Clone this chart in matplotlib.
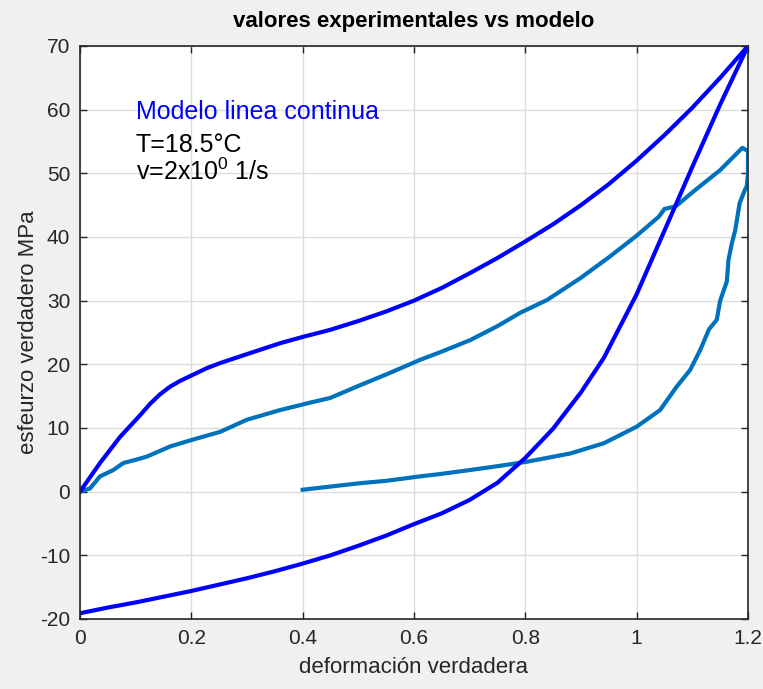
import matplotlib
matplotlib.use("Agg")
import matplotlib.pyplot as plt

plt.rcParams['font.family'] = ['Liberation Sans', 'DejaVu Sans']
plt.rcParams['mathtext.fontset'] = 'custom'
plt.rcParams['mathtext.rm'] = 'Liberation Sans'
plt.rcParams['mathtext.default'] = 'regular'
plt.rcParams['axes.unicode_minus'] = False

# modelo: carga (0 -> 1.2) y descarga (1.2 -> 0)
mod_x = [0, 0.036, 0.072, 0.108, 0.126, 0.144, 0.162, 0.18, 0.204, 0.228, 0.252,
         0.3, 0.359, 0.4, 0.449, 0.5, 0.55, 0.6, 0.65, 0.7, 0.75, 0.8, 0.85,
         0.9, 0.95, 1.0, 1.05, 1.1, 1.15, 1.2,
         1.15, 1.1, 1.05, 1.0, 0.97, 0.941, 0.9, 0.85, 0.8, 0.75, 0.7, 0.65, 0.6,
         0.55, 0.5, 0.45, 0.4, 0.35, 0.3, 0.25, 0.2, 0.15, 0.1, 0.05, 0]
mod_y = [0, 4.5, 8.6, 12.0, 13.8, 15.3, 16.5, 17.4, 18.4, 19.4, 20.2,
         21.6, 23.3, 24.3, 25.4, 26.8, 28.3, 30.0, 32.0, 34.3, 36.7, 39.3, 42.0,
         45.0, 48.3, 52.0, 56.0, 60.3, 65.0, 70.0,
         60.8, 51.0, 41.0, 31.0, 25.9, 21.0, 15.6, 9.9, 5.3, 1.4, -1.3, -3.4, -5.1,
         -6.9, -8.5, -10.0, -11.3, -12.5, -13.6, -14.6, -15.6, -16.5, -17.4, -18.2, -19.1]

# datos experimentales: carga
exp_x = [0, 0.018, 0.036, 0.06, 0.078, 0.1, 0.12, 0.162, 0.2, 0.252, 0.3, 0.359,
         0.419, 0.449, 0.5, 0.55, 0.611, 0.65, 0.701, 0.75, 0.791, 0.839, 0.9,
         0.95, 1.0, 1.04, 1.05, 1.07, 1.1, 1.15, 1.19, 1.2]
exp_y = [0, 0.5, 2.4, 3.4, 4.5, 5.0, 5.5, 7.1, 8.1, 9.4, 11.3, 12.8,
         14.1, 14.7, 16.6, 18.4, 20.7, 22.0, 23.8, 26.0, 28.1, 30.1, 33.6,
         36.8, 40.2, 43.2, 44.4, 44.8, 47.0, 50.5, 54.0, 53.5]

# datos experimentales: descarga
des_x = [1.2, 1.2, 1.198, 1.195, 1.185, 1.177, 1.171, 1.165, 1.162, 1.15, 1.144,
         1.13, 1.114, 1.096, 1.072, 1.042, 1.0, 0.941, 0.881, 0.803, 0.75, 0.701,
         0.65, 0.611, 0.55, 0.5, 0.45, 0.4]
des_y = [53.5, 50.0, 48.0, 47.5, 45.3, 41.0, 39.0, 36.4, 33.0, 30.0, 27.0,
         25.5, 22.2, 19.1, 16.5, 12.8, 10.2, 7.6, 6.0, 4.7, 4.0, 3.4,
         2.8, 2.4, 1.7, 1.3, 0.8, 0.3]

xticks = [0, 0.2, 0.4, 0.6, 0.8, 1, 1.2]
xlabels = ['0', '0.2', '0.4', '0.6', '0.8', '1', '1.2']
yticks = [-20, -10, 0, 10, 20, 30, 40, 50, 60, 70]

fig = plt.figure(figsize=(7.63, 6.89), dpi=100, facecolor='#f0f0f0')
ax = fig.add_axes([0.1048, 0.1016, 0.8755, 0.8317])

ax.plot(exp_x, exp_y, color='#0072bd', lw=3)
ax.plot(des_x, des_y, color='#0072bd', lw=3)
ax.plot(mod_x, mod_y, color='#0000ff', lw=3)

ax.set_xlim(0, 1.2)
ax.set_ylim(-20, 70)
ax.set_xticks(xticks)
ax.set_xticklabels(xlabels)
ax.set_yticks(yticks)
ax.grid(True, color='#dcdcdc', lw=1)
ax.set_axisbelow(True)
ax.tick_params(direction='in', top=True, right=True, length=5, width=1,
               color='#262626', labelcolor='#262626', labelsize=15)
ax.tick_params(axis='x', pad=7)
ax.tick_params(axis='y', pad=7)
for s in ax.spines.values():
    s.set_color('#262626')
    s.set_linewidth(1.2)

ax.set_title('valores experimentales vs modelo', fontsize=16, fontweight='bold', pad=14)
ax.set_xlabel('deformación verdadera', fontsize=16, color='#262626', labelpad=7)
ax.set_ylabel('esfeurzo verdadero MPa', fontsize=16, color='#262626', labelpad=1)

ax.text(0.1, 58.5, 'Modelo linea continua', color='#0000ff', fontsize=18, va='baseline')
ax.text(0.1, 53.3, 'T=18.5°C', color='black', fontsize=18, va='baseline')
ax.text(0.1, 49.0, 'v=2x10$^0$ 1/s', color='black', fontsize=18, va='baseline')

fig.savefig('out.png', dpi=100, facecolor=fig.get_facecolor())
